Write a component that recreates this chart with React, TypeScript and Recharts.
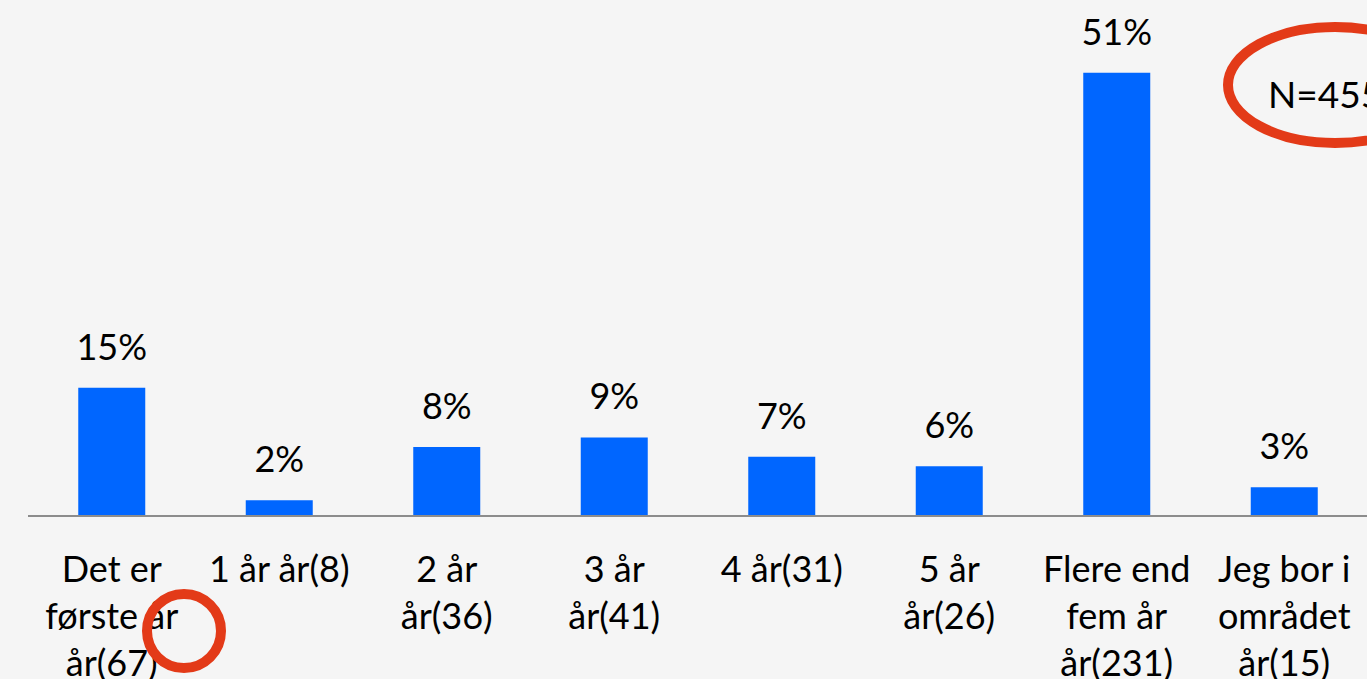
import { BarChart, Bar, XAxis, YAxis, LabelList } from 'recharts';

const categories = [
  ['Det er', 'første år', 'år(67)'],
  ['1 år år(8)'],
  ['2 år', 'år(36)'],
  ['3 år', 'år(41)'],
  ['4 år(31)'],
  ['5 år', 'år(26)'],
  ['Flere end', 'fem år', 'år(231)'],
  ['Jeg bor i', 'området', 'år(15)'],
];
const shares = [14.7, 1.8, 7.9, 9.0, 6.8, 5.7, 50.8, 3.3];
const shareLabels = ['15%', '2%', '8%', '9%', '7%', '6%', '51%', '3%'];

const FONT = 'Lato, "Open Sans", sans-serif';

const data = categories.map((lines, i) => ({
  name: lines.join(' '),
  lines,
  value: shares[i],
  label: shareLabels[i],
}));

const CategoryTick = (props: any) => {
  const { x, y, index } = props;
  const lines: string[] = data[index]?.lines ?? [];
  return (
    <text x={x} y={y} textAnchor="middle" fill="#000" fontSize={36} fontFamily={FONT}>
      {lines.map((line, i) => (
        <tspan key={i} x={x} dy={i === 0 ? 58 : 47}>
          {line}
        </tspan>
      ))}
    </text>
  );
};

export default function App() {
  return (
    <div
      style={{
        position: 'fixed',
        left: 0,
        top: 0,
        width: 1367,
        height: 679,
        overflow: 'hidden',
        background: '#f5f5f5',
      }}
    >
      <BarChart
        width={1400}
        height={679}
        data={data}
        margin={{ top: 36, right: 32, left: 28, bottom: 0 }}
        barCategoryGap="30%"
      >
        <XAxis
          dataKey="name"
          height={163}
          interval={0}
          tickLine={false}
          axisLine={{ stroke: '#8c8c8c', strokeWidth: 2 }}
          tick={<CategoryTick />}
        />
        <YAxis hide domain={[0, 55]} />
        <Bar dataKey="value" fill="#0066ff" isAnimationActive={false}>
          <LabelList
            dataKey="label"
            position="top"
            offset={28}
            fill="#000"
            fontSize={36}
            fontFamily={FONT}
          />
        </Bar>
      </BarChart>
      <svg
        width={1367}
        height={679}
        style={{ position: 'absolute', left: 0, top: 0, pointerEvents: 'none' }}
      >
        <text x={1268} y={108} fill="#000" fontSize={37} fontFamily={FONT}>
          N=455
        </text>
        <ellipse cx={1335} cy={85} rx={107} ry={58} fill="none" stroke="#e33a18" strokeWidth={10} />
        <circle cx={184} cy={631} r={37} fill="none" stroke="#e33a18" strokeWidth={10} />
      </svg>
    </div>
  );
}
